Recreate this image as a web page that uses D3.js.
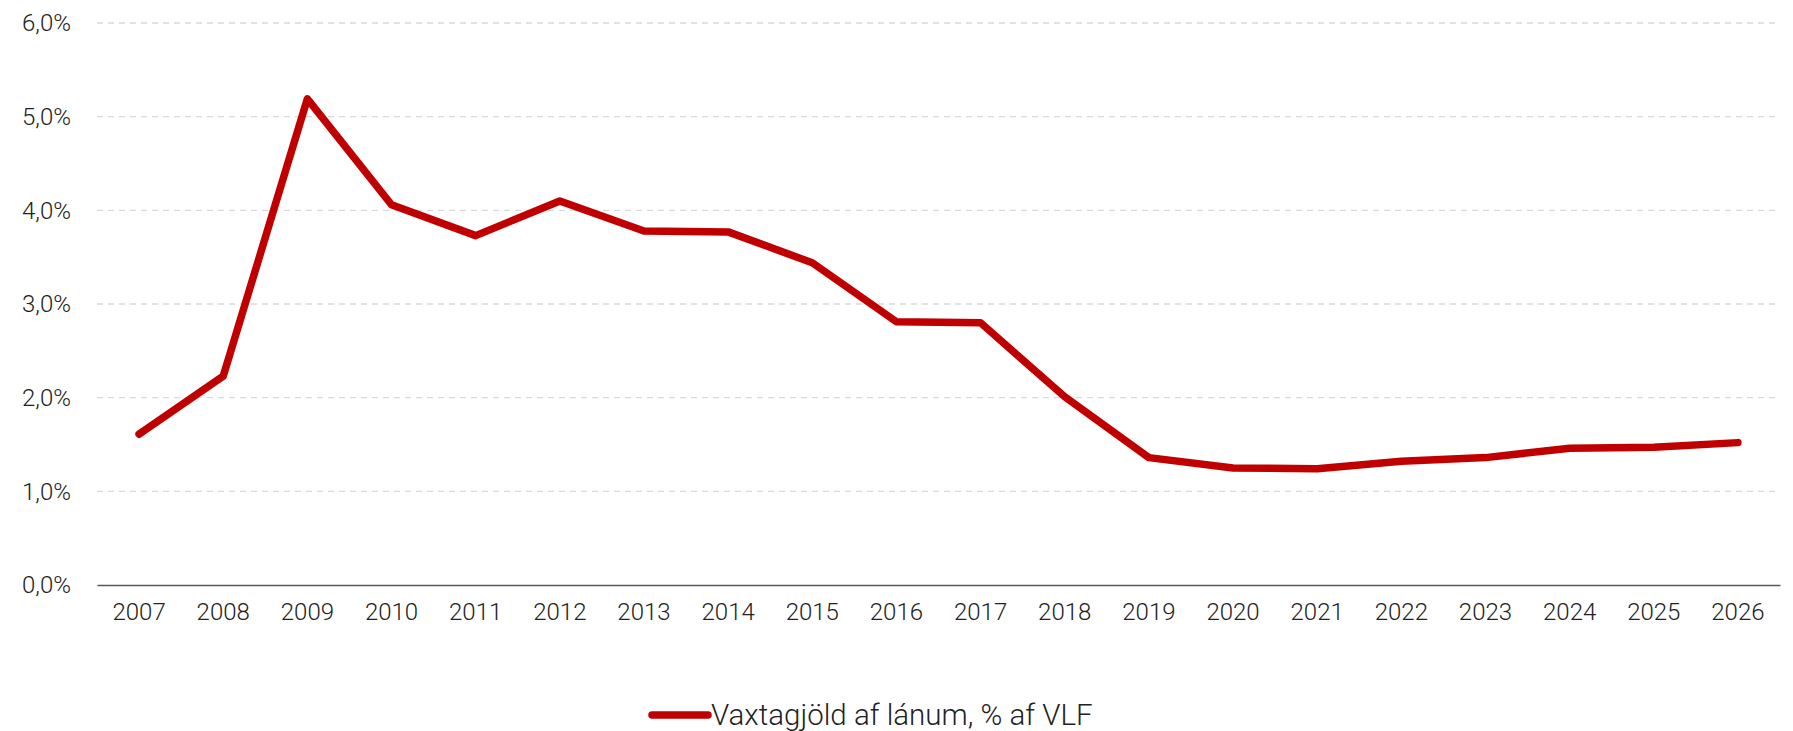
<!DOCTYPE html>
<html>
<head>
<meta charset="utf-8">
<script src="https://cdn.jsdelivr.net/npm/d3@7"></script>
<style>
  body { margin: 0; background: #fff; }
  text { font-family: Roboto, "Noto Sans", sans-serif; font-weight: 300; fill: #222; }
</style>
</head>
<body>
<script>
    const years = ["2007", "2008", "2009", "2010", "2011", "2012", "2013", "2014", "2015", "2016",
                   "2017", "2018", "2019", "2020", "2021", "2022", "2023", "2024", "2025", "2026"];
    const values = [1.61, 2.23, 5.19, 4.06, 3.73, 4.10, 3.78, 3.77, 3.44, 2.81,
                    2.80, 2.01, 1.36, 1.25, 1.24, 1.32, 1.36, 1.46, 1.47, 1.52];
    const yTicks = [0, 1, 2, 3, 4, 5, 6];
    const seriesName = "Vaxtagjöld af lánum, % af VLF";

    const W = 1793, H = 731;
    // plot area
    const m = { top: 23, right: 13, bottom: 146, left: 97 };
    const w = W - m.left - m.right;
    const h = H - m.top - m.bottom;

    const svg = d3.select("body").append("svg")
        .attr("width", W)
        .attr("height", H);

    const g = svg.append("g").attr("transform", "translate(" + m.left + "," + m.top + ")");

    const x = d3.scaleBand().domain(years).range([0, w]).padding(0);
    const y = d3.scaleLinear().domain([0, 6]).range([h, 0]);

    const fmt = d => d.toFixed(1).replace(".", ",") + "%";

    // gridlines
    g.append("g")
        .selectAll("line")
        .data(yTicks.filter(d => d > 0))
        .enter().append("line")
        .attr("x1", 0).attr("x2", w)
        .attr("y1", d => y(d)).attr("y2", d => y(d))
        .attr("stroke", "#d9d9d9")
        .attr("stroke-width", 1.3)
        .attr("stroke-dasharray", "6,5");

    // y axis labels (no axis line)
    const yAxis = d3.axisLeft(y).tickValues(yTicks).tickFormat(fmt).tickSize(0).tickPadding(26);
    const ya = g.append("g").call(yAxis);
    ya.select(".domain").remove();
    ya.selectAll("text").attr("font-size", 24).style("font-family", "Roboto, sans-serif").style("font-weight", 300).attr("fill", "#222");

    // x axis
    const xAxis = d3.axisBottom(x).tickSize(0).tickPadding(18);
    const xa = g.append("g").attr("transform", "translate(0," + h + ")").call(xAxis);
    xa.select(".domain").attr("stroke", "#595959").attr("stroke-width", 1.5);
    xa.selectAll("text").attr("font-size", 24).style("font-family", "Roboto, sans-serif").style("font-weight", 300).attr("fill", "#222");

    // line
    const line = d3.line()
        .x((d, i) => x(years[i]) + x.bandwidth() / 2)
        .y(d => y(d));

    g.append("path")
        .datum(values)
        .attr("fill", "none")
        .attr("stroke", "#c00000")
        .attr("stroke-width", 7.5)
        .attr("stroke-linejoin", "round")
        .attr("stroke-linecap", "round")
        .attr("d", line);

    // legend (kept just inside the bottom edge)
    const lg = svg.append("g").attr("transform", "translate(652,715)");
    lg.append("line")
        .attr("x1", 0).attr("x2", 56)
        .attr("y1", 0).attr("y2", 0)
        .attr("stroke", "#c00000")
        .attr("stroke-width", 7.5)
        .attr("stroke-linecap", "round");
    lg.append("text")
        .attr("x", 59)
        .attr("y", 0)
        .attr("dy", "0.33em")
        .attr("font-size", 29.5)
        .text(seriesName);
</script>
</body>
</html>
